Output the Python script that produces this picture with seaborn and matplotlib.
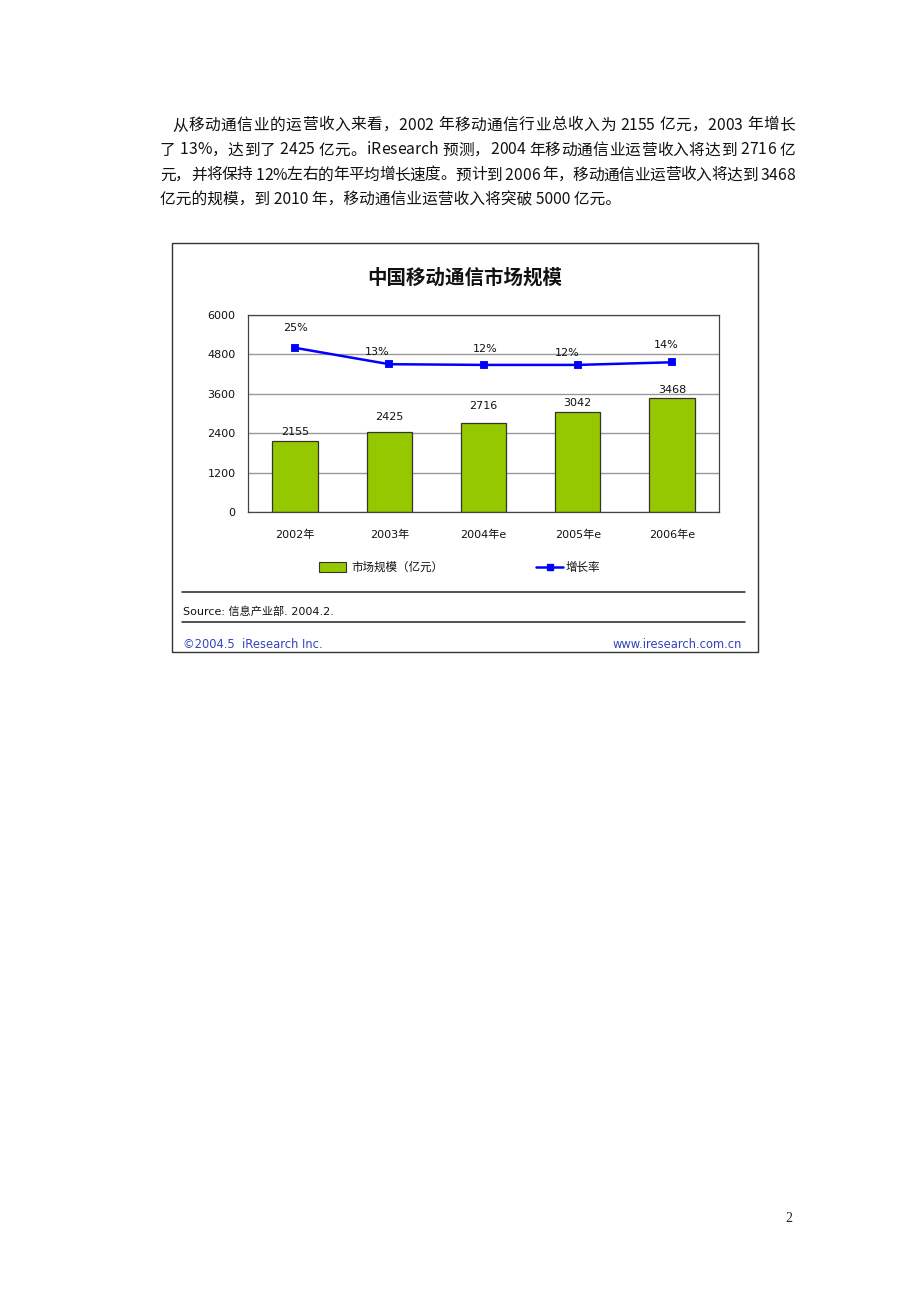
import matplotlib
matplotlib.use("Agg")
import matplotlib.pyplot as plt
import seaborn as sns
from matplotlib.patches import Rectangle
from matplotlib.lines import Line2D

# ================= data =================
years = ["2002年", "2003年", "2004年e", "2005年e", "2006年e"]
market_size = [2155, 2425, 2716, 3042, 3468]          # 亿元
growth_rate = [25.0, 12.53, 12.0, 12.0, 14.0]          # %
y_ticks = [0, 1200, 2400, 3600, 4800, 6000]

body_lines = [
    "从移动通信业的运营收入来看，2002 年移动通信行业总收入为 2155 亿元，2003 年增长",
    "了 13%，达到了 2425 亿元。iResearch 预测，2004 年移动通信业运营收入将达到 2716 亿",
    "元，并将保持 12%左右的年平均增长速度。预计到 2006 年，移动通信业运营收入将达到 3468",
    "亿元的规模，到 2010 年，移动通信业运营收入将突破 5000 亿元。",
]

# ================= style =================
sns.set_style("white")
CJK = ["Noto Sans CJK SC", "DejaVu Sans"]
LATIN = ["DejaVu Sans", "Noto Sans CJK SC"]
plt.rcParams["font.family"] = LATIN

W, H = 920, 1302
def fx(x):
    return x / W
def fy(y):
    return 1 - y / H

BAR_GREEN = "#96C800"
LINE_BLUE = "#0000FF"
LINK_BLUE = "#3344BB"

fig = plt.figure(figsize=(W / 100, H / 100), dpi=100)
fig.patch.set_facecolor("white")
renderer = fig.canvas.get_renderer()


def text_width(s, fs):
    t = fig.text(0, 0, s, fontsize=fs, family=CJK)
    w = t.get_window_extent(renderer).width
    t.remove()
    return w


def is_word_char(ch):
    return ch.isascii() and (ch.isalnum() or ch in "%.")


def draw_justified(txt, x0, x1, y, fs):
    # spread the line over x0..x1; latin words / numbers stay tight
    base = text_width("||", fs)
    widths = [text_width("|" + ch + "|", fs) - base for ch in txt]
    gaps = [0 if (is_word_char(a) and is_word_char(b)) else 1
            for a, b in zip(txt[:-1], txt[1:])] + [0]
    extra = (x1 - x0 - sum(widths)) / max(sum(gaps), 1)
    x = x0
    for ch, w, g in zip(txt, widths, gaps):
        if ch != " ":
            fig.text(fx(x), fy(y), ch, fontsize=fs, family=CJK, va="center",
                     ha="left", color="#111111")
        x += w + extra * g


# ---- body paragraph ----
BODY_FS = 11.3
line_x = [172, 160, 160, 160]
line_y = [125, 150, 175, 200]
for k, (txt, x, y) in enumerate(zip(body_lines, line_x, line_y)):
    if k < len(body_lines) - 1:
        draw_justified(txt, x, 795, y, BODY_FS)
    else:
        fig.text(fx(x), fy(y), txt, fontsize=BODY_FS, family=CJK, va="center",
                 ha="left", color="#111111")

# ---- chart frame ----
fig.add_artist(Rectangle((fx(172), fy(652)), fx(758) - fx(172), fy(243) - fy(652),
                         transform=fig.transFigure, fill=False, edgecolor="#333333", lw=1.0))
fig.text(fx(465), fy(278), "中国移动通信市场规模", fontsize=14, fontweight="bold",
         family=CJK, ha="center", va="center", color="#111111")

# ---- plot area ----
ax = fig.add_axes([fx(248), fy(512), fx(719) - fx(248), fy(315) - fy(512)])
sns.barplot(x=years, y=market_size, ax=ax, color=BAR_GREEN, width=0.48,
            edgecolor="#333333", linewidth=0.9, saturation=1)
ax.set_ylim(0, 6000)
ax.set_yticks(y_ticks)
ax.set_yticklabels([str(v) for v in y_ticks])
ax.yaxis.grid(True, color="#999999", linewidth=1.0)
ax.set_axisbelow(True)
for s in ax.spines.values():
    s.set_visible(True)
    s.set_color("#444444")
    s.set_linewidth(0.9)
ax.tick_params(axis="y", length=0, pad=9, labelsize=8, labelcolor="#111111")
ax.tick_params(axis="x", length=0, pad=13, labelsize=8, labelcolor="#111111")
ax.set_xlabel("")
ax.set_ylabel("")

bar_label_dy = [9, 15, 17, 9, 8]
for i, (v, dy) in enumerate(zip(market_size, bar_label_dy)):
    ax.annotate(str(v), (i, v), xytext=(0, dy), textcoords="offset pixels",
                ha="center", va="center", fontsize=8, color="#111111")

# ---- growth rate on hidden secondary axis ----
ax2 = ax.twinx()
sns.pointplot(x=years, y=growth_rate, ax=ax2, color=LINE_BLUE, marker="s",
              markersize=5, linewidth=1.8, errorbar=None)
ax2.set_ylim(-100, 50)
ax2.set_yticks([])
ax2.set_ylabel("")
for s in ax2.spines.values():
    s.set_visible(False)
ax.set_xlim(-0.5, len(years) - 0.5)

pct_offsets = [(0, 20), (-12, 12), (2, 16), (-10, 12), (-6, 17)]
for i, (g, off) in enumerate(zip(growth_rate, pct_offsets)):
    ax2.annotate(f"{g:.0f}%", (i, g), xytext=off, textcoords="offset pixels",
                 ha="center", va="center", fontsize=8, color="#111111")

# ---- legend ----
fig.add_artist(Rectangle((fx(319), fy(572)), fx(346) - fx(319), fy(562) - fy(572),
                         transform=fig.transFigure, facecolor=BAR_GREEN,
                         edgecolor="#333333", lw=0.8))
fig.text(fx(351), fy(567), "市场规模（亿元）", fontsize=8.3, family=CJK, va="center",
         ha="left", color="#111111")
fig.add_artist(Line2D([fx(536), fx(563)], [fy(567), fy(567)], transform=fig.transFigure,
                      color=LINE_BLUE, lw=1.8))
fig.add_artist(Line2D([fx(549.5)], [fy(567)], transform=fig.transFigure,
                      color=LINE_BLUE, marker="s", markersize=5))
fig.text(fx(566), fy(567), "增长率", fontsize=8.3, family=CJK, va="center", ha="left",
         color="#111111")

# ---- source / footer ----
for yy in (592, 622):
    fig.add_artist(Line2D([fx(182), fx(745)], [fy(yy), fy(yy)], transform=fig.transFigure,
                          color="#222222", lw=1.1))
fig.text(fx(183), fy(612), "Source: 信息产业部. 2004.2.", fontsize=8, va="center",
         ha="left", color="#111111")
fig.text(fx(183), fy(644), "©2004.5  iResearch Inc.", fontsize=8.3, va="center",
         ha="left", color=LINK_BLUE)
fig.text(fx(742), fy(644), "www.iresearch.com.cn", fontsize=8.3, va="center",
         ha="right", color=LINK_BLUE)

# ---- page number ----
fig.text(fx(789), fy(1218), "2", fontsize=10, family="Liberation Serif",
         va="center", ha="center", color="#222222")

fig.savefig("out.png", dpi=100, facecolor="white")
